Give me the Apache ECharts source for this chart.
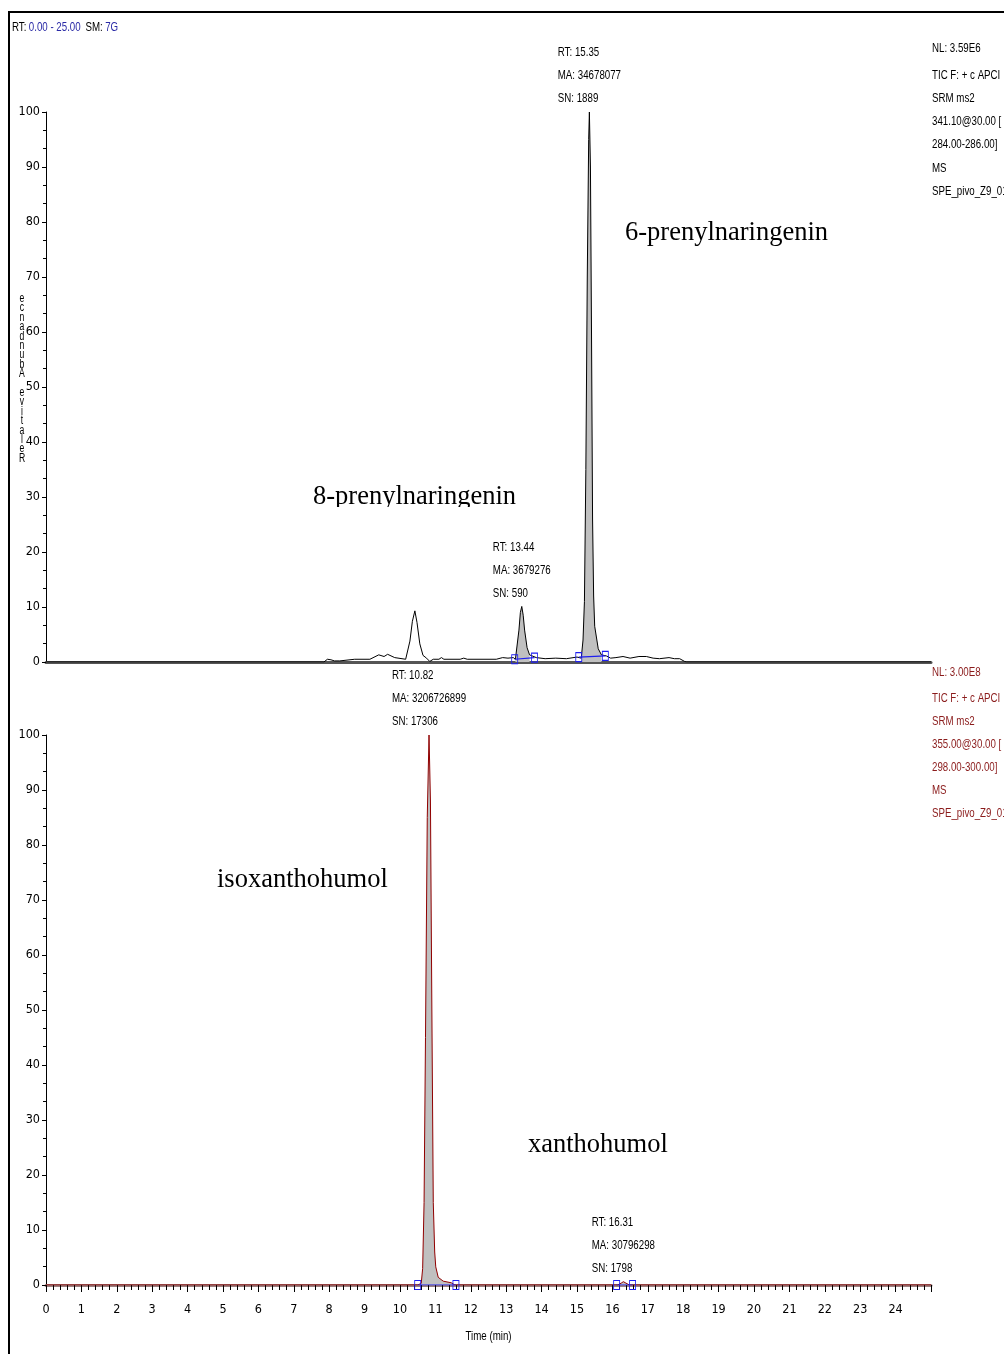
<!DOCTYPE html>
<html>
<head>
<meta charset="utf-8">
<script src="https://cdn.jsdelivr.net/npm/echarts@6/dist/echarts.min.js"></script>
<style>
  html, body { margin: 0; padding: 0; background: #fff; }
  #chart { width: 1004px; height: 1354px; }
</style>
</head>
<body>
<div id="chart"></div>
<script>
// ---- data ----------------------------------------------------------------
// SRM 341.10 -> 284-286 trace: [time (min), relative abundance (%)]
const topTrace = [
  [0,0],[7.85,0],[7.95,0.5],[8.05,0.4],[8.15,0.2],[8.3,0.2],[8.72,0.5],[9.15,0.5],
  [9.4,1.3],[9.55,1.0],[9.65,1.4],[9.85,0.8],[10.16,0.5],[10.28,3.8],[10.35,7.4],
  [10.42,9.3],[10.48,7.2],[10.56,3.3],[10.65,1.2],[10.75,0.7],[10.84,0.1],[10.94,0.5],
  [11.1,0.5],[11.17,0.8],[11.24,0.5],[11.7,0.5],[11.8,0.7],[11.9,0.5],[12.72,0.5],
  [12.9,0.8],[13.05,0.7],[13.2,0.8],[13.26,0.5],[13.31,0.8],[13.36,5.8],[13.4,9.0],
  [13.44,10.1],[13.48,8.5],[13.52,5.8],[13.59,2.6],[13.66,1.3],[13.85,0.8],[14.1,0.6],
  [14.4,0.7],[14.7,0.6],[15.0,0.9],[15.12,0.7],[15.17,4],[15.21,11],[15.25,35],
  [15.29,70],[15.33,95],[15.35,100],[15.38,90],[15.41,60],[15.44,26],[15.47,12],
  [15.5,6.5],[15.6,2.4],[15.69,1.3],[15.83,1.1],[15.95,0.7],[16.1,0.8],[16.3,1.0],
  [16.5,0.7],[16.75,1.0],[16.96,1.0],[17.15,0.7],[17.33,0.6],[17.6,0.8],[17.75,0.6],
  [17.9,0.6],[18.04,0.1],[18.1,0],[25,0]
];
// SRM 355.00 -> 298-300 trace
const bottomTrace = [
  [0,0],[10.5,0],[10.6,0.3],[10.64,3],[10.68,15],[10.72,45],[10.77,85],[10.82,100],
  [10.86,88],[10.9,50],[10.94,15],[10.98,6],[11.01,3.3],[11.08,1.4],[11.22,0.7],
  [11.45,0.4],[11.55,0],[16.15,0],[16.25,0.35],[16.31,0.6],[16.38,0.35],[16.48,0],[25,0]
];

// integrated peaks
const topPeakRT = [13.44, 15.35];
const topPeakMA = [3679276, 34678077];
const topPeakSN = [590, 1889];
const topWindows = [[13.24, 13.8], [15.05, 15.8]];

const bottomPeakRT = [10.82, 16.31];
const bottomPeakMA = [3206726899, 30796298];
const bottomPeakSN = [17306, 1798];
const bottomWindows = [[10.5, 11.58], [16.12, 16.57]];

// scan header / channel descriptions
const headerRange = '0.00 - 25.00';
const headerSmooth = '7G';
const topInfo = ['NL: 3.59E6', 'TIC F: + c APCI', 'SRM ms2', '341.10@30.00 [', '284.00-286.00]', 'MS', 'SPE_pivo_Z9_01'];
const bottomInfo = ['NL: 3.00E8', 'TIC F: + c APCI', 'SRM ms2', '355.00@30.00 [', '298.00-300.00]', 'MS', 'SPE_pivo_Z9_01'];

// compound names
const compoundNames = ['6-prenylnaringenin', '8-prenylnaringenin', 'isoxanthohumol', 'xanthohumol'];
const yTitle = 'Relative Abundance';
const xTitle = 'Time (min)';

// ---- helpers -------------------------------------------------------------
// Free text uses Liberation Sans squeezed horizontally (narrow sans look)
const SANS = "'Liberation Sans', Arial, sans-serif";
const TEXT_SIZE = 13.5;
const NARROW_SCALE = 0.72;
const AXIS_FONT = "'DejaVu Sans Condensed','Liberation Sans',sans-serif";
const SERIF = "'Liberation Serif','DejaVu Serif',serif";
const BLUE = '#1e1ef0';
const FILL = '#c0c0c0';

const measureCtx = document.createElement('canvas').getContext('2d');
function textWidth(s, size, family) {
  measureCtx.font = size + 'px ' + family;
  return measureCtx.measureText(s).width;
}
function valueAt(trace, t) {
  let best = trace[0];
  for (const p of trace) if (Math.abs(p[0] - t) < Math.abs(best[0] - t)) best = p;
  return best[1];
}

function narrowText(text, x, y, fill, extra) {
  return {
    type: 'text', x, y, scaleX: NARROW_SCALE, silent: true,
    style: Object.assign({ text, fill, fontFamily: SANS, fontSize: TEXT_SIZE }, extra || {})
  };
}

function channelSeries(idx, trace, lineColor, windows) {
  const out = [];
  out.push({
    type: 'line', xAxisIndex: idx, yAxisIndex: idx, data: trace,
    showSymbol: false, silent: true, z: 4,
    lineStyle: { color: lineColor, width: 1 }
  });
  windows.forEach(w => {
    const seg = trace.filter(p => p[0] >= w[0] && p[0] <= w[1]);
    out.push({
      type: 'line', xAxisIndex: idx, yAxisIndex: idx, data: seg,
      showSymbol: false, silent: true, z: 3,
      lineStyle: { opacity: 0 },
      areaStyle: { color: FILL, opacity: 1 }
    });
    out.push({
      type: 'line', xAxisIndex: idx, yAxisIndex: idx,
      data: [[w[0], valueAt(trace, w[0])], [w[1], valueAt(trace, w[1])]],
      symbol: 'rect', symbolSize: [6, 9], showSymbol: true, showAllSymbol: true,
      silent: true, z: 5,
      itemStyle: { color: 'rgba(255,255,255,0)', borderColor: BLUE, borderWidth: 1 },
      lineStyle: { color: BLUE, width: 1.2 }
    });
  });
  return out;
}

// RT / MA / SN block centred over each peak apex (placed through the axis scales)
function peakLabels(chart, idx, trace, rts, mas, sns) {
  return rts.map((rt, i) => {
    const lines = ['RT: ' + rt.toFixed(2), 'MA: ' + mas[i], 'SN: ' + sns[i]];
    const w = Math.max(...lines.map(l => textWidth(l, TEXT_SIZE, SANS))) * NARROW_SCALE;
    const p = chart.convertToPixel({ gridIndex: idx }, [rt, valueAt(trace, rt)]);
    return narrowText(lines.join('\n'), p[0] - w / 2, p[1] - 2, '#000',
      { lineHeight: 23, verticalAlign: 'bottom' });
  });
}

function yAxisDef(gridIndex) {
  return {
    type: 'value', gridIndex, min: 0, max: 100, interval: 10,
    axisLine: { show: true, lineStyle: { color: '#000', width: 1 } },
    axisTick: { show: true, length: 4, lineStyle: { color: '#000' } },
    minorTick: { show: true, splitNumber: 3, length: 3, lineStyle: { color: '#000' } },
    splitLine: { show: false },
    axisLabel: { color: '#000', fontFamily: AXIS_FONT, fontSize: 12.5, margin: 6 }
  };
}

function infoText(lines, color, firstY, restY, lineH) {
  return [
    narrowText(lines[0], 932, firstY, color, { verticalAlign: 'middle' }),
    narrowText(lines.slice(1).join('\n'), 932, restY - lineH / 2, color,
      { lineHeight: lineH, verticalAlign: 'top' })
  ];
}

function nameText(text, x, y) {
  return { type: 'text', x, y, silent: true,
    style: { text, fill: '#000', fontFamily: SERIF, fontSize: 26.5, verticalAlign: 'middle' } };
}

// ---- chart ---------------------------------------------------------------
const chart = echarts.init(document.getElementById('chart'), null, { renderer: 'canvas' });

chart.setOption({
  animation: false,
  backgroundColor: '#fff',
  grid: [
    { left: 46, right: 73, top: 112, height: 550 },
    { left: 46, right: 73, top: 735, height: 550 }
  ],
  xAxis: [
    {
      type: 'value', gridIndex: 0, min: 0, max: 25, interval: 1,
      axisLine: { show: true, onZero: false, lineStyle: { color: '#555', width: 3 } },
      axisTick: { show: false }, axisLabel: { show: false }, splitLine: { show: false }
    },
    {
      type: 'value', gridIndex: 1, min: 0, max: 25, interval: 1,
      axisLine: { show: true, onZero: false, lineStyle: { color: '#9a8080', width: 3 } },
      axisTick: { show: true, length: 7, lineStyle: { color: '#000' } },
      minorTick: { show: true, splitNumber: 5, length: 5, lineStyle: { color: '#000' } },
      splitLine: { show: false },
      axisLabel: { color: '#000', fontFamily: AXIS_FONT, fontSize: 12.5, margin: 18, showMaxLabel: false }
    }
  ],
  yAxis: [yAxisDef(0), yAxisDef(1)],
  series: [
    ...channelSeries(0, topTrace, '#000', topWindows),
    ...channelSeries(1, bottomTrace, '#900000', bottomWindows)
  ]
});

// x axis title centred under the lower plot
const axisMid = chart.convertToPixel({ gridIndex: 1 }, [12.5, 0]);
const xTitleWidth = textWidth(xTitle, TEXT_SIZE, SANS) * NARROW_SCALE;

const graphics = [
  // page frame
  { type: 'line', silent: true, shape: { x1: 9, y1: 11, x2: 9, y2: 1354 }, style: { stroke: '#000', lineWidth: 2 } },
  { type: 'line', silent: true, shape: { x1: 8, y1: 12, x2: 1004, y2: 12 }, style: { stroke: '#000', lineWidth: 2 } },
  // scan header
  { type: 'text', x: 12, y: 27, scaleX: NARROW_SCALE, silent: true,
    style: {
      text: '{k|RT:} {v|' + headerRange + '}  {k|SM:} {v|' + headerSmooth + '}',
      verticalAlign: 'middle',
      rich: {
        k: { fill: '#000', fontFamily: SANS, fontSize: TEXT_SIZE },
        v: { fill: '#2a2aa6', fontFamily: SANS, fontSize: TEXT_SIZE }
      }
    } },
  // channel descriptions
  ...infoText(topInfo, '#000', 48, 75, 23.2),
  ...infoText(bottomInfo, '#8b1c1c', 672, 698, 23),
  // axis titles
  narrowText(yTitle.split('').reverse().join('\n'), 22, 294, '#000',
    { fontSize: 12, lineHeight: 9.4, align: 'center', verticalAlign: 'top' }),
  narrowText(xTitle, axisMid[0] - xTitleWidth / 2, axisMid[1] + 51, '#000', { verticalAlign: 'middle' }),
  // peak annotations
  ...peakLabels(chart, 0, topTrace, topPeakRT, topPeakMA, topPeakSN),
  ...peakLabels(chart, 1, bottomTrace, bottomPeakRT, bottomPeakMA, bottomPeakSN),
  // compound names
  nameText(compoundNames[0], 625, 233),
  nameText(compoundNames[1], 313, 497),
  { type: 'rect', silent: true, z: 100, shape: { x: 305, y: 507, width: 222, height: 10 }, style: { fill: '#fff' } },
  nameText(compoundNames[2], 217, 880),
  nameText(compoundNames[3], 528, 1145)
];

chart.setOption({ graphic: graphics });
</script>
</body>
</html>
